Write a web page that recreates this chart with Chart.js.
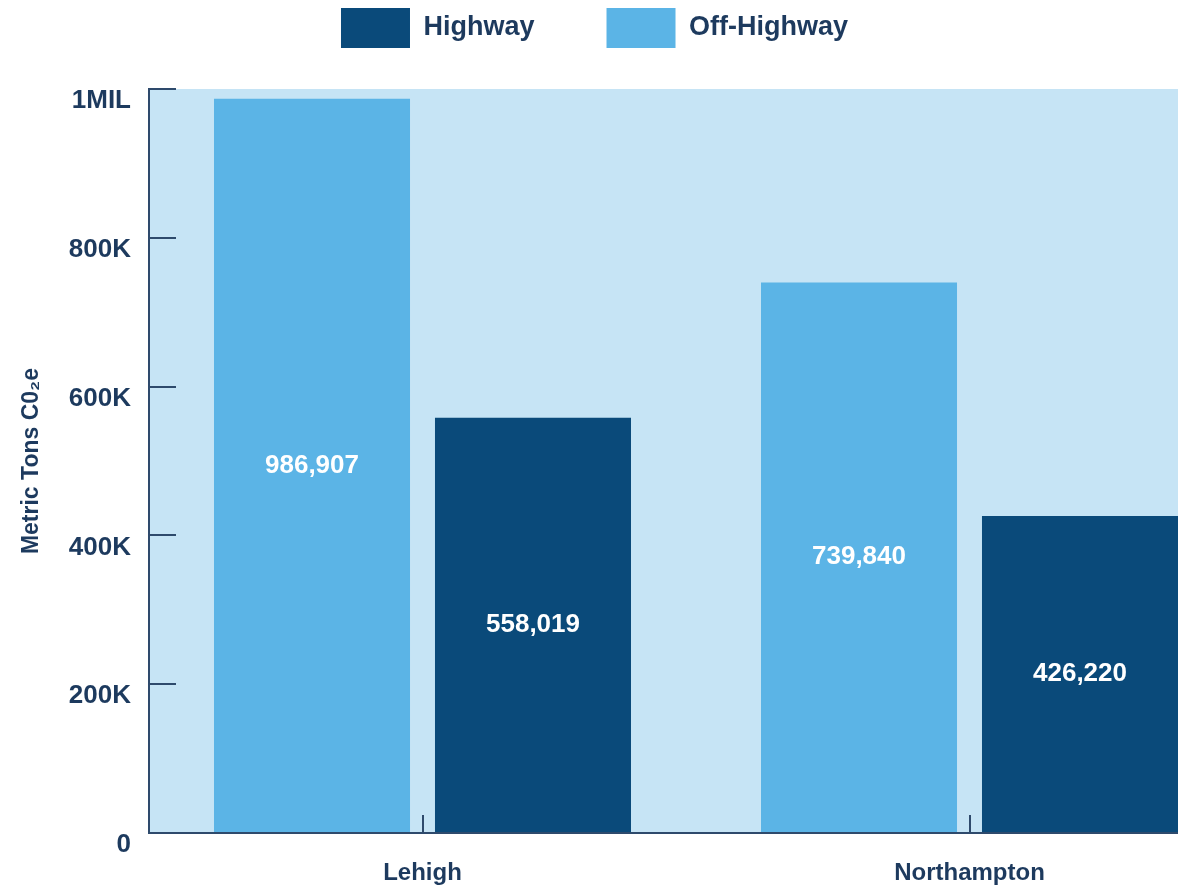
<!DOCTYPE html>
<html>
<head>
<meta charset="utf-8">
<script src="https://cdn.jsdelivr.net/npm/chart.js@4.4.1/dist/chart.umd.min.js"></script>
<style>
  html, body { margin: 0; padding: 0; background: #fff; overflow: hidden; }
  #wrap { position: relative; width: 1250px; height: 888px; }
</style>
</head>
<body>
<div id="wrap"><canvas id="grafico"></canvas></div>
<script>
// datos
const categorias = ['Lehigh', 'Northampton'];
const offHighway = [986907, 739840];
const highway = [558019, 426220];
const yTickLabels = ['0', '200K', '400K', '600K', '800K', '1MIL'];

const navy = '#1d3a5e';
const ejeColor = '#2e4a6c';

// fondo azul claro del area de trazado
const fondoPlugin = {
  id: 'fondo',
  beforeDraw(chart) {
    const { ctx, chartArea } = chart;
    ctx.save();
    ctx.fillStyle = '#c6e4f5';
    ctx.fillRect(chartArea.left, chartArea.top, chartArea.right - chartArea.left, chartArea.bottom - chartArea.top);
    ctx.restore();
  }
};

// mover la leyenda (arriba / izquierda)
const leyendaPlugin = {
  id: 'leyendaPos',
  afterLayout(chart) {
    const lg = chart.legend;
    lg.top -= 31;
    lg.bottom -= 31;
    lg.left -= 31;
    lg.right -= 31;
  }
};

// etiquetas de valor dentro de las barras
const valoresPlugin = {
  id: 'valores',
  afterDatasetsDraw(chart) {
    const ctx = chart.ctx;
    ctx.save();
    ctx.fillStyle = '#ffffff';
    ctx.font = 'bold 26px "Liberation Sans", Arial, sans-serif';
    ctx.textAlign = 'center';
    ctx.textBaseline = 'middle';
    chart.data.datasets.forEach((ds, i) => {
      chart.getDatasetMeta(i).data.forEach((bar, j) => {
        ctx.fillText(ds.data[j].toLocaleString('en-US'), bar.x, (bar.y + bar.base) / 2);
      });
    });
    ctx.restore();
  }
};

const ctx = document.getElementById('grafico').getContext('2d');
new Chart(ctx, {
  type: 'bar',
  data: {
    labels: categorias,
    datasets: [
      { label: 'Off-Highway', data: offHighway, backgroundColor: '#5bb4e6' },
      { label: 'Highway', data: highway, backgroundColor: '#0a4a7a' }
    ]
  },
  options: {
    responsive: true,
    maintainAspectRatio: false,
    animation: false,
    categoryPercentage: 0.808,
    barPercentage: 0.887,
    layout: { padding: { top: -33, left: 8, right: 7, bottom: 2 } },
    plugins: {
      tooltip: { enabled: false },
      legend: {
        reverse: true,
        labels: {
          boxWidth: 69,
          boxHeight: 40,
          padding: 72,
          color: navy,
          font: { family: '"Liberation Sans", Arial, sans-serif', size: 27, weight: 'bold' }
        }
      }
    },
    scales: {
      x: {
        afterFit(scale) { scale.height = 53; },
        grid: { offset: false, drawOnChartArea: false, tickLength: -18, color: ejeColor, lineWidth: 2 },
        border: { color: ejeColor, width: 2 },
        ticks: {
          padding: 44,
          color: navy,
          font: { family: '"Liberation Sans", Arial, sans-serif', size: 24, weight: 'bold' }
        }
      },
      y: {
        min: 0,
        max: 1000000,
        afterFit(scale) {
          scale.width = 141;
          scale.paddingTop = 0;
          scale.paddingBottom = 0;
        },
        grid: { drawOnChartArea: false, tickLength: -27, color: ejeColor, lineWidth: 2 },
        border: { color: ejeColor, width: 2 },
        ticks: {
          stepSize: 200000,
          padding: 45,
          labelOffset: 12,
          color: navy,
          font: { family: '"Liberation Sans", Arial, sans-serif', size: 26, weight: 'bold' },
          callback: (v, i) => yTickLabels[i]
        },
        title: {
          display: true,
          text: 'Metric Tons C0\u2082e',
          color: navy,
          padding: { top: 10, bottom: 0 },
          font: { family: '"Liberation Sans", Arial, sans-serif', size: 23, weight: 'bold' }
        }
      }
    }
  },
  plugins: [fondoPlugin, leyendaPlugin, valoresPlugin]
});
</script>
</body>
</html>
